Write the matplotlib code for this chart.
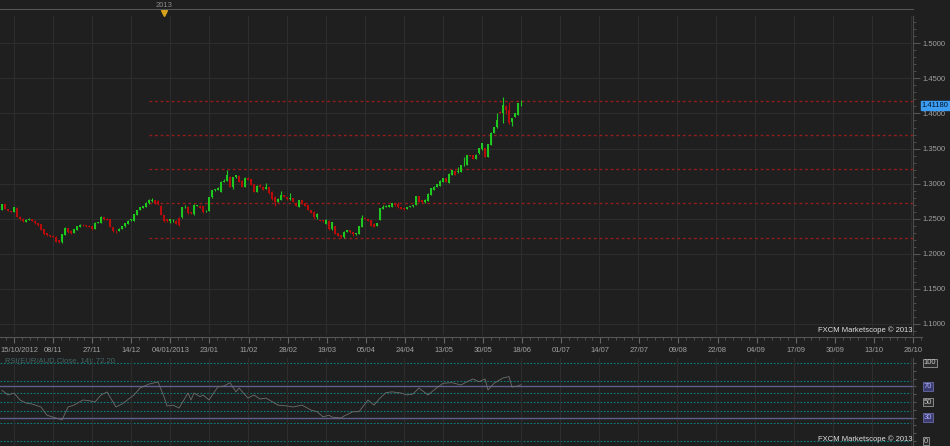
import numpy as np
import matplotlib
matplotlib.use('Agg')
import matplotlib.pyplot as plt
from matplotlib.transforms import blended_transform_factory

plt.rcParams['font.family'] = ['Liberation Sans', 'DejaVu Sans']

# ---------------- data (EUR/AUD daily candles) ----------------
opens = [1.2626, 1.2711, 1.2640, 1.2612, 1.2595, 1.2655, 1.2530, 1.2500, 1.2460, 1.2480,
         1.2495, 1.2470, 1.2436, 1.2420, 1.2350, 1.2290, 1.2265, 1.2260, 1.2245, 1.2190,
         1.2165, 1.2270, 1.2365, 1.2330, 1.2300, 1.2340, 1.2385, 1.2415, 1.2410, 1.2400,
         1.2390, 1.2355, 1.2445, 1.2445, 1.2520, 1.2500, 1.2493, 1.2380, 1.2330, 1.2325,
         1.2355, 1.2390, 1.2426, 1.2475, 1.2473, 1.2554, 1.2625, 1.2655, 1.2673, 1.2720,
         1.2750, 1.2760, 1.2755, 1.2687, 1.2554, 1.2490, 1.2468, 1.2475, 1.2473, 1.2510,
         1.2520, 1.2660, 1.2670, 1.2590, 1.2568, 1.2685, 1.2685, 1.2675, 1.2605, 1.2616,
         1.2806, 1.2905, 1.2915, 1.2886, 1.3030, 1.3040, 1.3100, 1.2955, 1.3090, 1.3115,
         1.3040, 1.2957, 1.3085, 1.3060, 1.2996, 1.2886, 1.2983, 1.2957, 1.2930, 1.2949,
         1.2886, 1.2815, 1.2743, 1.2768, 1.2840, 1.2810, 1.2775, 1.2790, 1.2729, 1.2673,
         1.2768, 1.2720, 1.2697, 1.2625, 1.2601, 1.2520, 1.2477, 1.2480, 1.2426, 1.2473,
         1.2350, 1.2397, 1.2294, 1.2269, 1.2236, 1.2315, 1.2333, 1.2310, 1.2280, 1.2284,
         1.2388, 1.2510, 1.2495, 1.2480, 1.2430, 1.2400, 1.2483, 1.2645, 1.2665, 1.2673,
         1.2673, 1.2715, 1.2715, 1.2660, 1.2650, 1.2645, 1.2665, 1.2675, 1.2697, 1.2825,
         1.2760, 1.2735, 1.2758, 1.2839, 1.2915, 1.2949, 1.2967, 1.3030, 1.3078, 1.3015,
         1.3124, 1.3185, 1.3160, 1.3167, 1.3260, 1.3267, 1.3410, 1.3410, 1.3355, 1.3433,
         1.3490, 1.3504, 1.3385, 1.3551, 1.3727, 1.3803, 1.4026, 1.4003, 1.4110, 1.4050,
         1.3877, 1.3955, 1.3980, 1.4115]
highs = [1.2715, 1.2718, 1.2645, 1.2615, 1.2668, 1.2660, 1.2535, 1.2505, 1.2490, 1.2510,
         1.2500, 1.2478, 1.2440, 1.2425, 1.2355, 1.2300, 1.2275, 1.2265, 1.2250, 1.2195,
         1.2285, 1.2378, 1.2370, 1.2335, 1.2360, 1.2400, 1.2420, 1.2420, 1.2415, 1.2405,
         1.2395, 1.2450, 1.2460, 1.2535, 1.2525, 1.2505, 1.2498, 1.2385, 1.2335, 1.2365,
         1.2395, 1.2440, 1.2478, 1.2500, 1.2572, 1.2630, 1.2670, 1.2682, 1.2735, 1.2775,
         1.2790, 1.2765, 1.2760, 1.2690, 1.2560, 1.2495, 1.2500, 1.2490, 1.2480, 1.2520,
         1.2670, 1.2690, 1.2675, 1.2600, 1.2705, 1.2700, 1.2690, 1.2680, 1.2625, 1.2810,
         1.2915, 1.2925, 1.2945, 1.3035, 1.3060, 1.3195, 1.3110, 1.3095, 1.3130, 1.3130,
         1.3045, 1.3090, 1.3095, 1.3070, 1.3000, 1.2975, 1.2990, 1.2962, 1.3015, 1.2955,
         1.2890, 1.2820, 1.2790, 1.2890, 1.2845, 1.2815, 1.2863, 1.2795, 1.2735, 1.2772,
         1.2772, 1.2725, 1.2700, 1.2630, 1.2605, 1.2575, 1.2480, 1.2485, 1.2490, 1.2478,
         1.2460, 1.2400, 1.2300, 1.2275, 1.2322, 1.2338, 1.2338, 1.2315, 1.2300, 1.2402,
         1.2554, 1.2515, 1.2500, 1.2485, 1.2435, 1.2445, 1.2655, 1.2700, 1.2690, 1.2700,
         1.2725, 1.2720, 1.2740, 1.2665, 1.2655, 1.2670, 1.2685, 1.2695, 1.2830, 1.2830,
         1.2765, 1.2775, 1.2860, 1.2940, 1.2960, 1.3000, 1.3050, 1.3085, 1.3085, 1.3145,
         1.3200, 1.3190, 1.3235, 1.3272, 1.3385, 1.3415, 1.3415, 1.3415, 1.3420, 1.3510,
         1.3580, 1.3510, 1.3570, 1.3732, 1.3808, 1.4010, 1.4030, 1.4240, 1.4115, 1.4160,
         1.3940, 1.4010, 1.4150, 1.4190]
lows = [1.2620, 1.2635, 1.2605, 1.2590, 1.2590, 1.2525, 1.2485, 1.2460, 1.2450, 1.2475,
        1.2465, 1.2430, 1.2400, 1.2335, 1.2270, 1.2250, 1.2240, 1.2238, 1.2168, 1.2160,
        1.2160, 1.2265, 1.2300, 1.2280, 1.2290, 1.2335, 1.2380, 1.2400, 1.2385, 1.2375,
        1.2345, 1.2350, 1.2440, 1.2440, 1.2485, 1.2475, 1.2375, 1.2310, 1.2300, 1.2320,
        1.2350, 1.2385, 1.2420, 1.2470, 1.2470, 1.2550, 1.2620, 1.2650, 1.2670, 1.2715,
        1.2745, 1.2705, 1.2700, 1.2550, 1.2460, 1.2455, 1.2440, 1.2460, 1.2420, 1.2395,
        1.2515, 1.2655, 1.2570, 1.2565, 1.2560, 1.2680, 1.2650, 1.2580, 1.2595, 1.2610,
        1.2800, 1.2895, 1.2910, 1.2880, 1.3020, 1.3035, 1.2950, 1.2920, 1.3085, 1.3025,
        1.2950, 1.2950, 1.3050, 1.2980, 1.2880, 1.2880, 1.2950, 1.2910, 1.2925, 1.2855,
        1.2770, 1.2680, 1.2735, 1.2765, 1.2805, 1.2770, 1.2770, 1.2738, 1.2678, 1.2668,
        1.2715, 1.2678, 1.2620, 1.2575, 1.2500, 1.2500, 1.2465, 1.2460, 1.2420, 1.2345,
        1.2345, 1.2280, 1.2250, 1.2225, 1.2230, 1.2310, 1.2300, 1.2260, 1.2275, 1.2280,
        1.2385, 1.2490, 1.2465, 1.2390, 1.2380, 1.2395, 1.2478, 1.2640, 1.2660, 1.2668,
        1.2668, 1.2685, 1.2655, 1.2635, 1.2630, 1.2640, 1.2660, 1.2670, 1.2692, 1.2735,
        1.2730, 1.2730, 1.2755, 1.2835, 1.2910, 1.2945, 1.2960, 1.3025, 1.3025, 1.3010,
        1.3120, 1.3120, 1.3155, 1.3160, 1.3255, 1.3262, 1.3395, 1.3345, 1.3350, 1.3428,
        1.3485, 1.3380, 1.3380, 1.3545, 1.3722, 1.3798, 1.4005, 1.3865, 1.3990, 1.3855,
        1.3820, 1.3950, 1.3975, 1.4110]
closes = [1.2711, 1.2640, 1.2612, 1.2595, 1.2660, 1.2530, 1.2493, 1.2470, 1.2480, 1.2500,
          1.2470, 1.2436, 1.2410, 1.2340, 1.2284, 1.2265, 1.2250, 1.2245, 1.2174, 1.2165,
          1.2280, 1.2373, 1.2310, 1.2300, 1.2355, 1.2390, 1.2410, 1.2405, 1.2390, 1.2380,
          1.2350, 1.2445, 1.2455, 1.2530, 1.2490, 1.2480, 1.2380, 1.2320, 1.2320, 1.2360,
          1.2390, 1.2435, 1.2473, 1.2493, 1.2568, 1.2625, 1.2664, 1.2675, 1.2729, 1.2768,
          1.2760, 1.2710, 1.2706, 1.2554, 1.2468, 1.2468, 1.2490, 1.2480, 1.2426, 1.2416,
          1.2664, 1.2670, 1.2578, 1.2575, 1.2697, 1.2695, 1.2655, 1.2590, 1.2612, 1.2806,
          1.2910, 1.2920, 1.2938, 1.3030, 1.3040, 1.3124, 1.2957, 1.3090, 1.3124, 1.3030,
          1.2957, 1.3085, 1.3055, 1.2985, 1.2886, 1.2967, 1.2957, 1.2915, 1.2945, 1.2863,
          1.2778, 1.2743, 1.2785, 1.2839, 1.2810, 1.2775, 1.2790, 1.2743, 1.2682, 1.2768,
          1.2720, 1.2682, 1.2625, 1.2580, 1.2521, 1.2570, 1.2470, 1.2465, 1.2483, 1.2350,
          1.2455, 1.2284, 1.2255, 1.2236, 1.2317, 1.2333, 1.2305, 1.2280, 1.2295, 1.2397,
          1.2507, 1.2495, 1.2470, 1.2397, 1.2385, 1.2440, 1.2650, 1.2673, 1.2680, 1.2695,
          1.2720, 1.2690, 1.2660, 1.2640, 1.2640, 1.2665, 1.2680, 1.2690, 1.2825, 1.2740,
          1.2735, 1.2770, 1.2854, 1.2935, 1.2955, 1.2996, 1.3044, 1.3078, 1.3030, 1.3138,
          1.3195, 1.3124, 1.3175, 1.3267, 1.3270, 1.3409, 1.3400, 1.3350, 1.3415, 1.3504,
          1.3575, 1.3385, 1.3566, 1.3727, 1.3803, 1.3907, 1.4012, 1.4121, 1.4050, 1.3860,
          1.3936, 1.4003, 1.4145, 1.4118]

# RSI(14): bar index and value
rsi_bar = [0, 2, 4, 6, 8, 10, 13, 15, 17, 20, 22, 24, 27, 29, 31, 33, 35, 38, 40, 44,
           46, 49, 52, 54, 55, 57, 59, 62, 63, 64, 66, 67, 69, 72, 74, 76, 78, 79, 82, 84,
           86, 88, 92, 95, 97, 100, 103, 105, 107, 109, 110, 113, 114, 117, 119, 122, 124, 126, 128, 130,
           133, 135, 137, 139, 142, 144, 147, 150, 153, 155, 157, 159, 161, 162, 164, 167, 169, 170, 172, 173]
rsi_val = [65, 59, 61.5, 52.6, 48.7, 47.4, 43.6, 33, 30.7, 27, 43.6, 46, 52.6, 51.7, 50, 59, 62.8, 43.6, 47.4, 59,
           67.9, 73, 75.6, 56.8, 44.9, 46, 42.3, 61.5, 52.6, 61.5, 56.8, 59, 52.6, 69.6, 70.5, 74.8, 63, 67.9, 55, 59,
           53.8, 55, 46, 44.9, 43.6, 46, 39.7, 37.6, 31, 33, 30.7, 29.5, 32, 37.6, 37.6, 52.6, 46, 55, 62, 63,
           61.5, 59, 60.3, 67.9, 59, 65.4, 74, 74.8, 71.8, 76, 79.5, 76, 79.5, 65.4, 74, 80.8, 82.5, 69.2, 70.5, 72.2]

date_labels = ['15/10/2012', '08/11', '27/11', '14/12', '04/01/2013', '23/01', '11/02', '28/02',
               '19/03', '05/04', '24/04', '13/05', '30/05', '18/06', '01/07', '14/07', '27/07',
               '09/08', '22/08', '04/09', '17/09', '30/09', '13/10', '26/10']
date_ticks = [4 + 13 * k for k in range(len(date_labels))]

level_prices = [1.4180, 1.3700, 1.3205, 1.2720, 1.2226]
level_start = 49
rsi_fib = [0, 23.6, 38.2, 50, 61.8, 76.4, 100]
rsi_bands = [30, 70]
year_bar = 54

# ---------------- styling ----------------
BG = '#1f1f1f'
GRID = '#2d2d2d'
TXT = '#a0a0a0'
GREEN = '#1ec81e'
RED = '#b80c0c'
FS = 5.5
W, H = 950, 446


def rect(x0, y0, x1, y1):
    return [x0 / W, 1 - y1 / H, (x1 - x0) / W, (y1 - y0) / H]


fig = plt.figure(figsize=(W / 100, H / 100), dpi=100, facecolor=BG)

xlim = (-2 / 3, 911 / 3)

# ---- main price panel
ax = fig.add_axes(rect(0, 16, 913, 335), facecolor=BG)
ax.set_xlim(*xlim)
ax.set_ylim(1.0843, 1.5389)
ax.set_xticks(date_ticks)
ax.tick_params(axis='x', bottom=False, labelbottom=False)
ax.yaxis.tick_right()
ax.set_yticks(np.arange(1.10, 1.5001, 0.05))
ax.set_yticklabels([f'{v:.4f}' for v in np.arange(1.10, 1.5001, 0.05)])
ax.set_yticks(np.arange(1.09, 1.5301, 0.01), minor=True)
ax.tick_params(axis='y', which='major', length=5, color='#555555', labelcolor=TXT,
               labelsize=FS, pad=2)
ax.tick_params(axis='y', which='minor', length=2.5, color='#555555')
ax.grid(True, which='major', color=GRID, lw=0.8)
for s in ['top', 'left', 'bottom']:
    ax.spines[s].set_visible(False)
ax.spines['right'].set_color('#4a4a4a')

x = np.arange(len(closes))
o = np.array(opens)
c = np.array(closes)
up = c >= o
cols = np.where(up, GREEN, RED)
ax.vlines(x, lows, highs, colors=cols, lw=0.8, zorder=3)
body = np.maximum(np.abs(c - o), 0.0009)
ax.bar(x, body, bottom=np.minimum(o, c), width=0.82, color=cols, lw=0, zorder=4)

for lv in level_prices:
    ax.hlines(lv, level_start, xlim[1], colors='#941c1c', lw=1.0,
              linestyles=(0, (2, 2)), zorder=2, snap=True)

tr = blended_transform_factory(ax.transAxes, ax.transData)
ax.text(1.0095, closes[-1], f'{closes[-1]:.5f}', transform=tr, fontsize=FS, color='#001428',
        va='center', ha='left', clip_on=False,
        bbox=dict(boxstyle='square,pad=0.15', fc='#3d9df3', ec='#3d9df3'))
ax.text(0.999, 0.003, 'FXCM Marketscope © 2013', transform=ax.transAxes, fontsize=FS,
        color='#e0e0e0', ha='right', va='bottom')

# ---- top strip with year marker
ax_t = fig.add_axes(rect(0, 9, 913, 16), facecolor=BG)
ax_t.set_xlim(*xlim)
ax_t.set_ylim(0, 1)
ax_t.set_xticks([])
ax_t.set_yticks([])
for s in ['left', 'right', 'bottom']:
    ax_t.spines[s].set_visible(False)
ax_t.spines['top'].set_color('#555555')
ax_t.plot([year_bar], [0.5], marker='v', color='#d8a21a', ms=4, clip_on=False)
ax_t.text(year_bar, 1.55, '2013', fontsize=FS, color='#8a8a8a', ha='center', va='center',
          clip_on=False)

# ---- date strip
ax_d = fig.add_axes(rect(0, 337, 922, 357), facecolor=BG)
ax_d.set_xlim(xlim[0], xlim[0] + 920 / 3)
ax_d.set_ylim(0, 1)
ax_d.set_yticks([])
ax_d.xaxis.set_ticks_position('top')
ax_d.set_xticks(date_ticks)
ax_d.set_xticks(np.arange(date_ticks[0] - 2.6, date_ticks[-1] + 3, 2.6), minor=True)
ax_d.tick_params(axis='x', which='major', direction='in', length=4, color='#666666',
                 labeltop=False, labelbottom=False)
ax_d.tick_params(axis='x', which='minor', direction='in', length=2, color='#555555')
for s in ['left', 'right', 'bottom']:
    ax_d.spines[s].set_visible(False)
ax_d.spines['top'].set_color('#555555')
trd = blended_transform_factory(ax_d.transData, ax_d.transAxes)
for i, (t, lab) in enumerate(zip(date_ticks, date_labels)):
    if i == 0:
        ax_d.text(xlim[0], 0.3, lab, transform=trd, fontsize=FS, color=TXT, ha='left', va='center')
    else:
        ax_d.text(t, 0.3, lab, transform=trd, fontsize=FS, color=TXT, ha='center', va='center')

# ---- RSI panel
ax_r = fig.add_axes(rect(0, 358, 913, 446), facecolor=BG)
ax_r.set_xlim(*xlim)
ax_r.set_ylim(-6.4, 106.4)
ax_r.set_xticks(date_ticks)
ax_r.tick_params(axis='x', bottom=False, labelbottom=False)
ax_r.grid(True, axis='x', color=GRID, lw=0.8)
ax_r.yaxis.tick_right()
ax_r.set_yticks(np.arange(0, 101, 10))
ax_r.tick_params(axis='y', length=2.5, color='#555555', labelright=False)
for s in ['top', 'left', 'bottom']:
    ax_r.spines[s].set_visible(False)
ax_r.spines['right'].set_color('#4a4a4a')
for lv in rsi_fib:
    ax_r.axhline(lv, color='#0f7e7e', lw=0.8, ls=(0, (1.5, 1.5)), zorder=1)
for lv in rsi_bands:
    ax_r.axhline(lv, color='#5f5f8e', lw=1.0, zorder=2)
ax_r.plot(rsi_bar, rsi_val, color='#6e6e6e', lw=0.6, zorder=3)
ax_r.text(0.005, 0.955, f'RSI(EUR/AUD.Close, 14): {rsi_val[-1]:.2f}', transform=ax_r.transAxes,
          fontsize=FS, color='#456464', ha='left', va='center')
ax_r.text(0.999, 0.03, 'FXCM Marketscope © 2013', transform=ax_r.transAxes, fontsize=FS,
          color='#e0e0e0', ha='right', va='bottom')

trr = blended_transform_factory(ax_r.transAxes, ax_r.transData)
rsi_axis_labels = [100, 70, 50, 30, 0]
for lv in rsi_axis_labels:
    if lv in rsi_bands:
        fc, ec, tc = '#3c3c70', '#6a6aa8', '#b0b0ff'
    else:
        fc, ec, tc = '#2a2a2a', '#9a9a9a', '#c8c8c8'
    ax_r.text(1.0115, lv, str(lv), transform=trr, fontsize=FS, color=tc, ha='left',
              va='center', clip_on=False,
              bbox=dict(boxstyle='square,pad=0.12', fc=fc, ec=ec, lw=0.6))

fig.savefig('out.png', dpi=100, facecolor=BG)
